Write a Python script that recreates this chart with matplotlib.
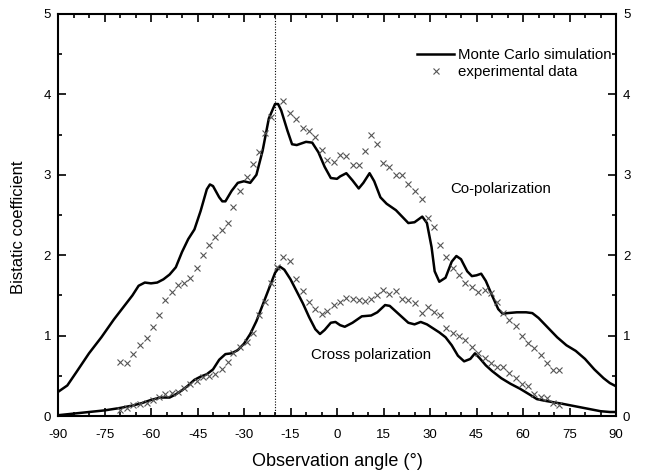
import matplotlib
matplotlib.use("Agg")
import matplotlib.pyplot as plt
import numpy as np
from matplotlib.ticker import MultipleLocator

plt.rcParams['font.family'] = ['Liberation Sans', 'DejaVu Sans']
plt.rcParams['axes.unicode_minus'] = False

# Monte Carlo simulation, co-polarization
co_sim_x = [-90, -87, -84, -80, -76, -72, -69, -66, -64, -62, -60, -58, -56, -54, -52, -50, -48, -46,
            -44, -42, -41, -40, -38, -37, -36, -34, -32, -30, -28, -26, -24, -22, -20, -19, -18, -16,
            -14.5, -13, -10, -8, -6, -4, -2, 0, 1, 3, 5, 7, 8.5, 10.5, 12, 14, 16, 19, 21, 23, 25,
            27.5, 29, 30.5, 31.5, 33, 35, 37, 38.5, 40, 42, 43.5, 45, 46.5, 48, 50, 52, 53.5, 55, 58,
            61, 63, 65, 68, 71, 74, 77, 80, 83, 86, 88, 90]
co_sim_y = [0.3, 0.38, 0.55, 0.78, 0.98, 1.2, 1.35, 1.5, 1.62, 1.66, 1.65, 1.66, 1.7, 1.76, 1.85, 2.04, 2.2, 2.32,
            2.55, 2.82, 2.88, 2.86, 2.72, 2.67, 2.67, 2.8, 2.9, 2.92, 2.9, 3.0, 3.3, 3.7, 3.88, 3.88, 3.8, 3.55,
            3.38, 3.37, 3.41, 3.4, 3.28, 3.1, 2.96, 2.95, 2.98, 3.02, 2.93, 2.83, 2.9, 3.02, 2.92, 2.72, 2.64, 2.56, 2.48, 2.40, 2.41,
            2.48, 2.4, 2.1, 1.8, 1.67, 1.72, 1.92, 1.99, 1.95, 1.8, 1.74, 1.75, 1.77, 1.68, 1.5, 1.33, 1.27, 1.28, 1.29,
            1.29, 1.28, 1.22, 1.1, 0.98, 0.88, 0.81, 0.71, 0.58, 0.47, 0.41, 0.37]

# Monte Carlo simulation, cross polarization
cr_sim_x = [-90, -85, -80, -75, -70, -66, -63, -60, -57, -54, -52, -50, -48, -46, -44, -42, -40, -38, -36,
            -34, -32, -30, -28, -26, -24, -22, -20, -18.5, -17, -15, -13, -11, -9, -7, -5.5, -4, -2, -0.5,
            1, 2.5, 5, 8, 11, 13, 15.5, 17, 19, 21, 23, 25, 27, 29, 31, 33, 35, 37, 39, 41, 43, 44.5, 46,
            48, 50, 53, 56, 59, 62, 64.5, 67, 70, 73, 77, 81, 85, 88, 90]
cr_sim_y = [0.01, 0.03, 0.05, 0.07, 0.1, 0.13, 0.16, 0.2, 0.23, 0.23, 0.27, 0.32, 0.38, 0.45, 0.49, 0.52, 0.58, 0.7, 0.77,
            0.78, 0.82, 0.9, 1.02, 1.18, 1.38, 1.58, 1.78, 1.86, 1.82, 1.7, 1.55, 1.4, 1.23, 1.08, 1.02, 1.07, 1.16, 1.17,
            1.13, 1.11, 1.16, 1.24, 1.25, 1.29, 1.38, 1.37, 1.3, 1.23, 1.16, 1.14, 1.17, 1.14, 1.09, 1.04, 0.98, 0.88, 0.75, 0.68, 0.71, 0.78, 0.72,
            0.63, 0.56, 0.47, 0.40, 0.34, 0.27, 0.21, 0.19, 0.17, 0.15, 0.12, 0.09, 0.06, 0.05, 0.05]

# Experimental data (shared angles)
exp_x = [-70, -67.8, -65.8, -63.5, -61.3, -59.3, -57.4, -55.4, -53.2, -51.3, -49.4, -47.4, -45.2, -43.2, -41.2,
         -39.4, -37.1, -35.2, -33.4, -31.3, -29.1, -27.2, -25.3, -23.2, -21.3, -19.2, -17.3, -15.2, -13.1, -11.1,
         -9.1, -7.0, -5.0, -3.1, -1.1, 0.9, 3.0, 5.1, 7.0, 9.0, 10.9, 12.9, 14.8, 16.9, 19.0, 21.0, 23.0, 25.2,
         27.4, 29.3, 31.3, 33.2, 35.3, 37.4, 39.4, 41.4, 43.5, 45.5, 47.6, 49.7, 51.6, 53.5, 55.5, 57.7, 59.6,
         61.6, 63.5, 65.8, 67.7, 69.7, 71.6]
co_exp = [0.67, 0.66, 0.77, 0.88, 0.97, 1.11, 1.26, 1.44, 1.54, 1.63, 1.65, 1.72, 1.84, 2.0, 2.13,
          2.23, 2.31, 2.4, 2.6, 2.8, 2.97, 3.13, 3.28, 3.52, 3.72, np.nan, 3.92, 3.77, 3.69, 3.58,
          3.54, 3.47, 3.31, 3.19, 3.16, 3.25, 3.24, 3.12, 3.12, 3.3, 3.5, 3.38, 3.15, 3.1, 3.0, 3.0, 2.89, 2.8,
          2.7, 2.46, 2.35, 2.13, 1.98, 1.84, 1.75, 1.65, 1.6, 1.54, 1.57, 1.53, 1.42, 1.28, 1.19, 1.12, 1.0,
          0.91, 0.85, 0.76, 0.66, 0.57, 0.57]
cr_exp = [0.07, 0.1, 0.14, 0.15, 0.16, 0.2, 0.24, 0.27, 0.29, 0.3, 0.35, 0.4, 0.44, 0.49, 0.5,
          0.52, 0.58, 0.67, 0.78, 0.86, 0.92, 1.03, 1.26, 1.42, 1.65, 1.85, 1.98, 1.93, 1.71, 1.55,
          1.42, 1.33, 1.27, 1.3, 1.38, 1.42, 1.47, 1.45, 1.44, 1.43, 1.46, 1.5, 1.57, 1.52, 1.55, 1.46, 1.44, 1.41,
          1.28, 1.36, 1.29, 1.26, 1.09, 1.03, 1.0, 0.94, 0.86, 0.79, 0.72, 0.66, 0.61, 0.61, 0.53, 0.47, 0.4,
          0.37, 0.27, 0.24, 0.22, 0.16, 0.14]

x_ticks = [-90, -75, -60, -45, -30, -15, 0, 15, 30, 45, 60, 75, 90]
y_ticks = [0, 1, 2, 3, 4, 5]
peak_angle = -20

fig = plt.figure(figsize=(6.46, 4.76), dpi=100)
ax = fig.add_axes([0.0898, 0.126, 0.8638, 0.8446])

ax.axvline(peak_angle, color='black', lw=0.8, ls=(0, (1, 1.5)))
ax.plot(co_sim_x, co_sim_y, color='black', lw=1.8, label='Monte Carlo simulation')
ax.plot(cr_sim_x, cr_sim_y, color='black', lw=1.8)
ax.plot(exp_x, co_exp, ls='none', marker='x', ms=4.5, mew=0.8, color='#555555', label='experimental data')
ax.plot(exp_x, cr_exp, ls='none', marker='x', ms=4.5, mew=0.8, color='#555555')

ax.set_xlim(-90, 90)
ax.set_ylim(0, 5)
ax.set_xticks(x_ticks)
ax.set_yticks(y_ticks)
ax.xaxis.set_minor_locator(MultipleLocator(5))
ax.yaxis.set_minor_locator(MultipleLocator(0.5))
ax.tick_params(which='both', direction='in', top=True, right=True, labelright=True, width=1.2)
ax.tick_params(which='major', length=6, labelsize=9.5)
ax.tick_params(axis='x', which='major', pad=9)
ax.tick_params(axis='y', which='major', pad=5)
ax.tick_params(which='minor', length=3)
for s in ax.spines.values():
    s.set_linewidth(1.5)

ax.set_xlabel('Observation angle (°)', fontsize=13, labelpad=9)
ax.set_ylabel('Bistatic coefficient', fontsize=12)
ax.yaxis.set_label_coords(-0.058, 0.47)

ax.text(36.5, 2.82, 'Co-polarization', fontsize=10.8, ha='left', va='center')
ax.text(-8.3, 0.76, 'Cross polarization', fontsize=10.8, ha='left', va='center')

ax.legend(loc='upper right', bbox_to_anchor=(0.993, 0.915), frameon=False, fontsize=10.8,
          handlelength=2.5, handletextpad=0.27, labelspacing=0.2, borderpad=0, borderaxespad=0)

fig.savefig('out.png', dpi=100)
